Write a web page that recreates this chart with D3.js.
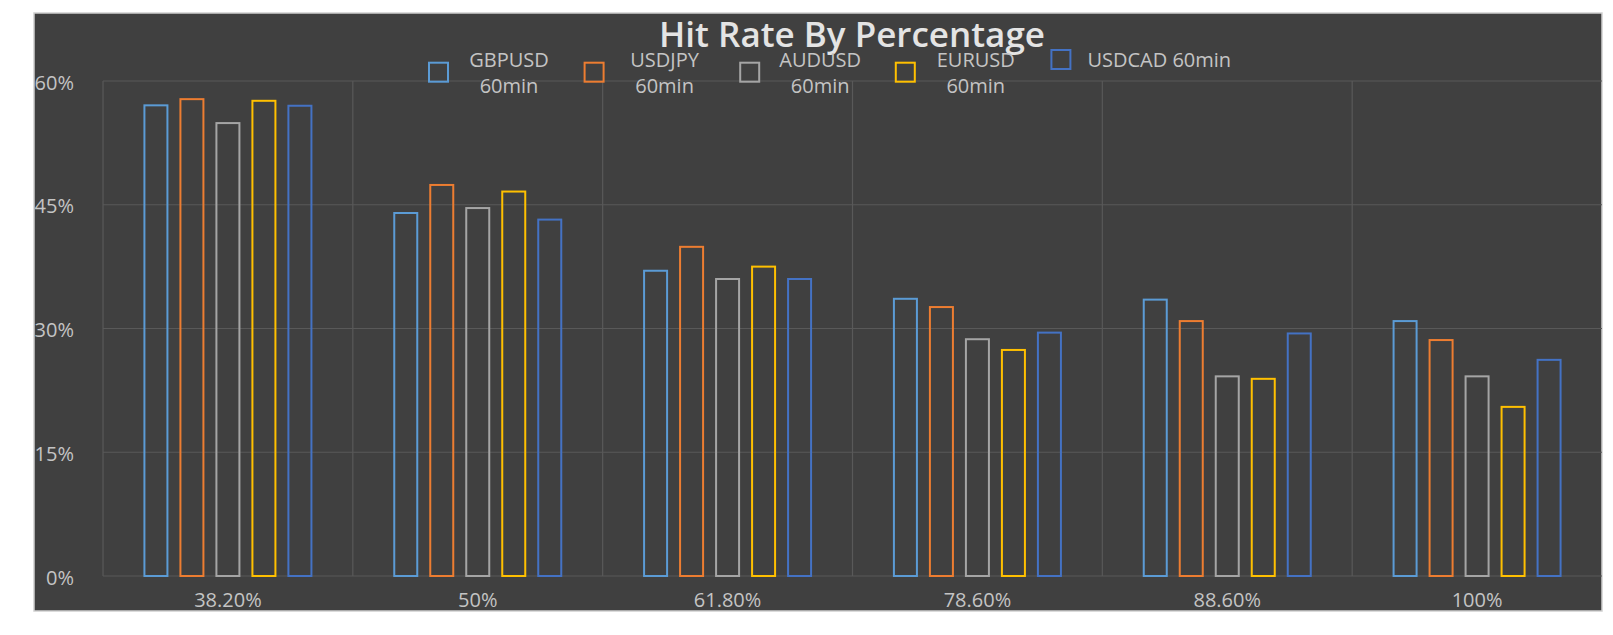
<!DOCTYPE html>
<html>
<head>
<meta charset="utf-8">
<script src="https://cdn.jsdelivr.net/npm/d3@7"></script>
<style>
  body {margin:0; background:#ffffff;}
  text {font-family:"Open Sans","DejaVu Sans",sans-serif;}
</style>
</head>
<body>
<div id="chart"></div>
<script>
var w=1613
var h=635

//Data
var categories=["38.20%","50%","61.80%","78.60%","88.60%","100%"];
var seriesNames=["GBPUSD 60min","USDJPY 60min","AUDUSD 60min","EURUSD 60min","USDCAD 60min"];
var legendLines=[["GBPUSD","60min"],["USDJPY","60min"],["AUDUSD","60min"],["EURUSD","60min"],["USDCAD 60min"]];
var seriesColors=["#5b9bd5","#ed7d31","#a5a5a5","#ffc000","#4472c4"];
var gbpusd=[57.05,44.0,37.0,33.6,33.5,30.9];
var usdjpy=[57.8,47.4,39.9,32.6,30.9,28.6];
var audusd=[54.9,44.6,36.0,28.7,24.2,24.2];
var eurusd=[57.6,46.6,37.5,27.4,23.9,20.5];
var usdcad=[57.0,43.2,36.0,29.5,29.4,26.2];
var yTicks=[0,15,30,45,60];

var seriesValues=[gbpusd,usdjpy,audusd,eurusd,usdcad];

var svg=d3.select("#chart")
          .append("svg")
          .attr("width",w)
          .attr("height",h);

//Chart background
svg.append("rect")
   .attr("x",34)
   .attr("y",13)
   .attr("width",1568)
   .attr("height",598)
   .attr("fill","#404040")
   .attr("stroke","#cfcfcf")
   .attr("stroke-width",1.5);

//Scales
var xScale=d3.scaleBand()
             .domain(categories)
             .range([103,1602]);

var xInner=d3.scaleBand()
             .domain(d3.range(seriesNames.length))
             .range([0,167])
             .paddingInner(0.361);

var yScale=d3.scaleLinear()
             .domain([0,60])
             .range([576,81]);

//Gridlines
var grid=svg.append("g")
            .attr("class","grid");

grid.selectAll("line.h")
    .data(yTicks)
    .enter()
    .append("line")
    .attr("class","h")
    .attr("x1",103)
    .attr("x2",1602)
    .attr("y1",function(d) {return yScale(d);})
    .attr("y2",function(d) {return yScale(d);})
    .attr("stroke","#595959")
    .attr("stroke-width",1.2);

grid.selectAll("line.v")
    .data(categories)
    .enter()
    .append("line")
    .attr("class","v")
    .attr("x1",function(d) {return xScale(d);})
    .attr("x2",function(d) {return xScale(d);})
    .attr("y1",yScale(60))
    .attr("y2",yScale(0))
    .attr("stroke","#595959")
    .attr("stroke-width",1.2);

//Y-axis labels
svg.append("g")
   .attr("class","y-labels")
   .selectAll("text")
   .data(yTicks)
   .enter()
   .append("text")
   .attr("x",74)
   .attr("y",function(d) {return yScale(d)+1;})
   .attr("text-anchor","end")
   .attr("dominant-baseline","central")
   .attr("font-size","20px")
   .attr("fill","#c4c4c4")
   .text(function(d) {return d+"%";});

//X-axis labels
svg.append("g")
   .attr("class","x-labels")
   .selectAll("text")
   .data(categories)
   .enter()
   .append("text")
   .attr("x",function(d) {return xScale(d)+xScale.bandwidth()/2;})
   .attr("y",607)
   .attr("text-anchor","middle")
   .attr("font-size","20px")
   .attr("fill","#c4c4c4")
   .text(function(d) {return d;});

//Bars
var groupOffset=(xScale.bandwidth()-167)/2;
var bars=svg.append("g")
            .attr("class","bars");

seriesValues.forEach(function(values,s) {
    bars.selectAll("rect.s"+s)
        .data(values)
        .enter()
        .append("rect")
        .attr("class","s"+s)
        .attr("x",function(d,i) {return xScale(categories[i])+groupOffset+xInner(s);})
        .attr("y",function(d) {return yScale(d);})
        .attr("width",xInner.bandwidth())
        .attr("height",function(d) {return yScale(0)-yScale(d);})
        .attr("fill","none")
        .attr("stroke",seriesColors[s])
        .attr("stroke-width",2);
});

//Title
svg.append("text")
   .attr("x",852)
   .attr("y",47)
   .attr("text-anchor","middle")
   .attr("font-size","35px")
   .attr("font-weight","600")
   .attr("fill","#e4e4e4")
   .text("Hit Rate By Percentage");

//Legend
var legend=svg.append("g")
              .attr("class","legend");

legendLines.forEach(function(lines,i) {
    var lx=428+i*155.6;
    var item=legend.append("g");
    var twoLines=lines.length>1;
    item.append("rect")
        .attr("x",lx+1)
        .attr("y",twoLines ? 62.7 : 50)
        .attr("width",19)
        .attr("height",19)
        .attr("fill","none")
        .attr("stroke",seriesColors[i])
        .attr("stroke-width",2);
    if (twoLines) {
        lines.forEach(function(line,j) {
            item.append("text")
                .attr("x",lx+81)
                .attr("y",66.7+j*26.3)
                .attr("text-anchor","middle")
                .attr("font-size","20px")
                .attr("fill","#c4c4c4")
                .text(line);
        });
    } else {
        item.append("text")
            .attr("x",lx+37)
            .attr("y",66.7)
            .attr("font-size","20px")
            .attr("fill","#c4c4c4")
            .text(lines[0]);
    }
});
</script>
</body>
</html>
